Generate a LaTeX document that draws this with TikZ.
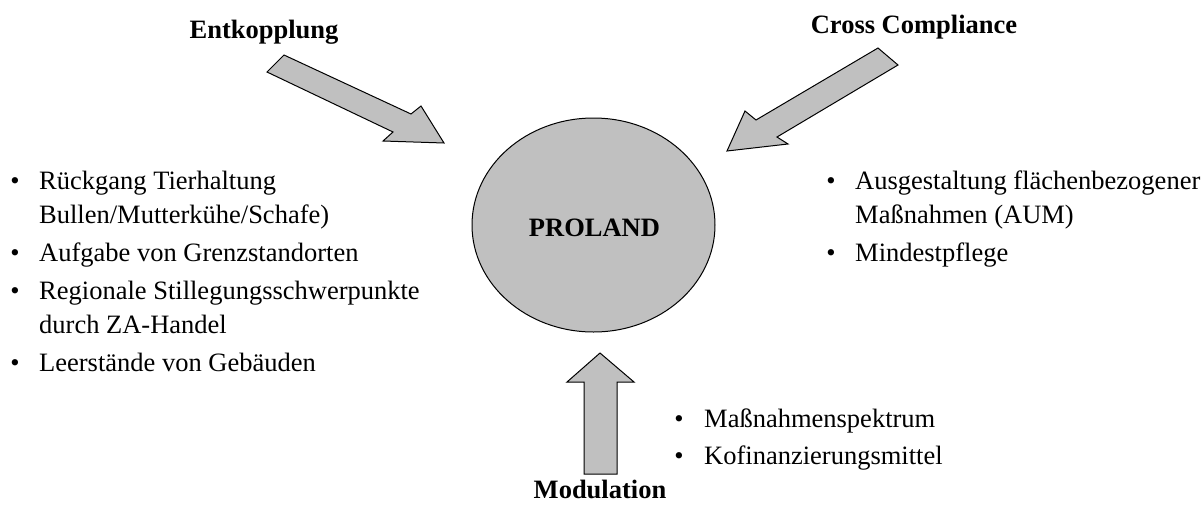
\documentclass[tikz,border=0pt]{standalone}
\usepackage{fontspec}
\setmainfont{Liberation Serif}
\usetikzlibrary{shapes.geometric}
\definecolor{blockgray}{HTML}{C0C0C0}
\begin{document}
\begin{tikzpicture}[x=1pt,y=-1pt,
  blockarrow/.style={draw=black,line width=1pt,fill=blockgray,line join=miter},
  head/.style={font=\fontsize{26.5}{30}\selectfont\bfseries,inner sep=0pt,anchor=base},
  itemtext/.style={font=\fontsize{26.5}{30}\selectfont,inner sep=0pt,anchor=base west},
  bul/.style={font=\fontsize{26.5}{30}\selectfont,inner sep=0pt,anchor=base}]
\useasboundingbox (0,0) rectangle (1203,517);
% centre
\node[ellipse,draw=black,line width=1pt,fill=blockgray,minimum width=243pt,minimum height=214pt,inner sep=0pt] (proland) at (593.5,225) {};
\node[head] (prolandtext) at (594.5,236) {PROLAND};
% headings
\node[head] (entk) at (264,38) {Entkopplung};
\node[head] (cc) at (914,33) {Cross Compliance};
\node[head] (mod) at (600,498) {Modulation};
% block arrows
\draw[blockarrow] (267,72) -- (284,55) -- (411,114) -- (421,106) -- (444,143) -- (383,141) -- (393,132) -- cycle;
\draw[blockarrow] (878,48) -- (898,65) -- (777,137) -- (788,144) -- (727,151) -- (745,111) -- (756,120) -- cycle;
\draw[blockarrow] (600,353) -- (634,382) -- (617,382) -- (617,474) -- (584,474) -- (584,382) -- (567,382) -- cycle;
% left list
\node[bul] (lb1) at (15,189) {•};
\node[itemtext] (l1a) at (39,189) {Rückgang Tierhaltung};
\node[itemtext] (l1b) at (39,223) {Bullen/Mutterkühe/Schafe)};
\node[bul] (lb2) at (15,261) {•};
\node[itemtext] (l2) at (39,261) {Aufgabe von Grenzstandorten};
\node[bul] (lb3) at (15,299) {•};
\node[itemtext] (l3a) at (39,299) {Regionale Stillegungsschwerpunkte};
\node[itemtext] (l3b) at (39,333) {durch ZA-Handel};
\node[bul] (lb4) at (15,371) {•};
\node[itemtext] (l4) at (39,371) {Leerstände von Gebäuden};
% right list
\node[bul] (rb1) at (831,189) {•};
\node[itemtext] (r1a) at (855,189) {Ausgestaltung flächenbezogener};
\node[itemtext] (r1b) at (855,223) {Maßnahmen (AUM)};
\node[bul] (rb2) at (831,261) {•};
\node[itemtext] (r2) at (855,261) {Mindestpflege};
% bottom list
\node[bul] (bb1) at (679,427) {•};
\node[itemtext] (b1) at (704,427) {Maßnahmenspektrum};
\node[bul] (bb2) at (679,464) {•};
\node[itemtext] (b2) at (704,464) {Kofinanzierungsmittel};
\end{tikzpicture}
\end{document}
